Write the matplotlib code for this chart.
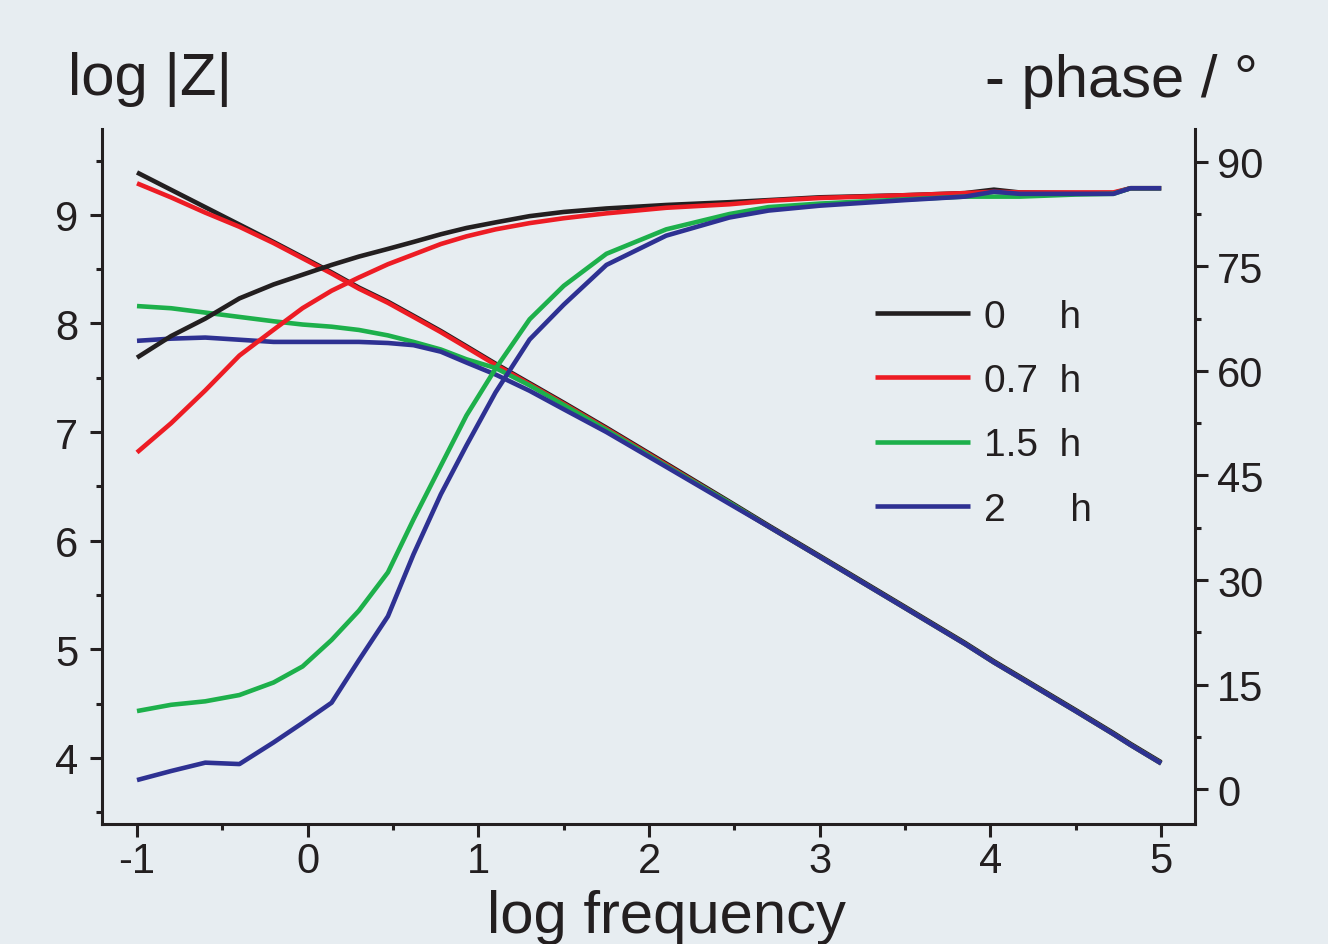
import matplotlib
matplotlib.use('Agg')
from matplotlib import pyplot as plt
from matplotlib.ticker import FixedLocator

plt.rcParams['font.family'] = ['Liberation Sans', 'DejaVu Sans']
plt.rcParams['axes.unicode_minus'] = False

# log frequency sample points shared by all series
log_freq = [-1.0, -0.8, -0.6, -0.4, -0.2, -0.03, 0.14, 0.3, 0.47, 0.62, 0.78, 0.93,
            1.1, 1.3, 1.5, 1.75, 2.1, 2.47, 2.7, 3.0, 3.5, 3.85, 4.02, 4.17, 4.5,
            4.72, 4.82, 5.0]

# log |Z|
logz_0h = [9.39, 9.23, 9.07, 8.91, 8.75, 8.61, 8.47, 8.33, 8.20, 8.07, 7.93, 7.79,
           7.63, 7.45, 7.27, 7.04, 6.71, 6.36, 6.14, 5.86, 5.39, 5.06, 4.89, 4.75,
           4.44, 4.23, 4.13, 3.96]
logz_07h = [9.29, 9.16, 9.02, 8.89, 8.74, 8.60, 8.46, 8.32, 8.19, 8.06, 7.92, 7.78,
            7.62, 7.44, 7.26, 7.03, 6.70, 6.35, 6.13, 5.85, 5.38, 5.05, 4.88, 4.74,
            4.43, 4.22, 4.12, 3.95]
logz_15h = [8.16, 8.14, 8.10, 8.06, 8.02, 7.99, 7.97, 7.94, 7.89, 7.83, 7.76, 7.67,
            7.59, 7.43, 7.25, 7.02, 6.69, 6.35, 6.13, 5.85, 5.38, 5.05, 4.88, 4.74,
            4.43, 4.22, 4.12, 3.95]
logz_2h = [7.84, 7.86, 7.87, 7.85, 7.83, 7.83, 7.83, 7.83, 7.82, 7.80, 7.74, 7.64,
           7.53, 7.38, 7.21, 7.00, 6.68, 6.34, 6.13, 5.85, 5.38, 5.05, 4.88, 4.74,
           4.43, 4.22, 4.12, 3.95]

# - phase / degree
phase_0h = [61.9, 65.0, 67.5, 70.4, 72.4, 73.8, 75.2, 76.4, 77.5, 78.5, 79.6, 80.5,
            81.3, 82.2, 82.8, 83.3, 83.8, 84.2, 84.5, 84.9, 85.2, 85.5, 86.0, 85.6,
            85.5, 85.5, 86.2, 86.2]
phase_07h = [48.3, 52.5, 57.2, 62.2, 65.9, 69.0, 71.5, 73.4, 75.3, 76.7, 78.2, 79.3,
             80.3, 81.2, 81.9, 82.6, 83.4, 83.9, 84.4, 84.8, 85.2, 85.5, 85.7, 85.6,
             85.6, 85.6, 86.2, 86.2]
phase_15h = [11.2, 12.1, 12.6, 13.5, 15.3, 17.6, 21.4, 25.6, 31.1, 38.7, 46.4, 53.6,
             60.3, 67.4, 72.2, 76.8, 80.3, 82.5, 83.5, 84.0, 84.6, 85.0, 85.0, 85.0,
             85.3, 85.4, 86.2, 86.2]
phase_2h = [1.3, 2.6, 3.8, 3.6, 6.7, 9.5, 12.4, 18.5, 24.8, 33.7, 42.3, 49.3,
            56.9, 64.5, 69.5, 75.2, 79.4, 82.0, 83.0, 83.7, 84.5, 85.0, 85.7, 85.4,
            85.4, 85.4, 86.2, 86.2]

labels = ['0     h', '0.7  h', '1.5  h', '2      h']
colors = ['#231f20', '#ed1c24', '#1db04b', '#2e3192']

BG = '#e7edf1'
TXT = '#231f20'
LW = 3.3

fig = plt.figure(figsize=(13.28, 9.45), dpi=100, facecolor=BG)
ax = fig.add_axes([102 / 1328, 1 - 825 / 945, 1093 / 1328, 695 / 945])
ax2 = ax.twinx()
ax.patch.set_visible(False)
ax2.patch.set_visible(False)

handles = []
for z, c, lab in zip([logz_0h, logz_07h, logz_15h, logz_2h], colors, labels):
    ln, = ax.plot(log_freq, z, color=c, lw=LW, label=lab, solid_capstyle='butt')
    handles.append(ln)
for p, c in zip([phase_0h, phase_07h, phase_15h, phase_2h], colors):
    ax2.plot(log_freq, p, color=c, lw=LW, solid_capstyle='butt')

ax.set_xlim(-1.205, 5.198)
ax.set_ylim(3.392, 9.79)
ax2.set_ylim(-5.0, 94.7)

ax.xaxis.set_major_locator(FixedLocator([-1, 0, 1, 2, 3, 4, 5]))
ax.xaxis.set_minor_locator(FixedLocator([-0.5, 0.5, 1.5, 2.5, 3.5, 4.5]))
ax.yaxis.set_major_locator(FixedLocator([4, 5, 6, 7, 8, 9]))
ax.yaxis.set_minor_locator(FixedLocator([3.5, 4.5, 5.5, 6.5, 7.5, 8.5, 9.5]))
ax2.yaxis.set_major_locator(FixedLocator([0, 15, 30, 45, 60, 75, 90]))
ax2.yaxis.set_minor_locator(FixedLocator([-7.5, 7.5, 22.5, 37.5, 52.5, 67.5, 82.5]))

for a in (ax, ax2):
    a.spines['top'].set_visible(False)
    for s in a.spines.values():
        s.set_linewidth(2.2)
        s.set_color(TXT)
ax.spines['right'].set_visible(False)
ax2.spines['left'].set_visible(False)
ax2.spines['bottom'].set_visible(False)

ax.tick_params(axis='both', which='major', length=9, width=2.2, color=TXT,
               labelsize=30, labelcolor=TXT, direction='out')
ax.tick_params(axis='both', which='minor', length=4.5, width=2.2, color=TXT,
               direction='out')
ax.tick_params(axis='x', which='major', pad=3)
ax.tick_params(axis='y', which='major', pad=8)
ax2.tick_params(axis='y', which='major', length=9, width=2.2, color=TXT,
                labelsize=30, labelcolor=TXT, direction='out', pad=7)
ax2.tick_params(axis='y', which='minor', length=4.5, width=2.2, color=TXT,
                direction='out')

leg = ax2.legend(handles=handles, labels=labels, loc='upper left',
                 bbox_to_anchor=(0.707, 0.756), frameon=False, fontsize=28,
                 handlelength=2.45, handletextpad=0.35, labelspacing=0.73,
                 borderpad=0, borderaxespad=0)
for t in leg.get_texts():
    t.set_color(TXT)

fig.text(68 / 1328, 1 - 95 / 945, 'log |Z|', fontsize=43, color=TXT,
         ha='left', va='baseline')
fig.text(1258 / 1328, 1 - 97 / 945, '- phase / °', fontsize=43, color=TXT,
         ha='right', va='baseline')
fig.text(666 / 1328, 1 - 933 / 945, 'log frequency', fontsize=43, color=TXT,
         ha='center', va='baseline')

fig.savefig('out.png', dpi=100, facecolor=BG)
